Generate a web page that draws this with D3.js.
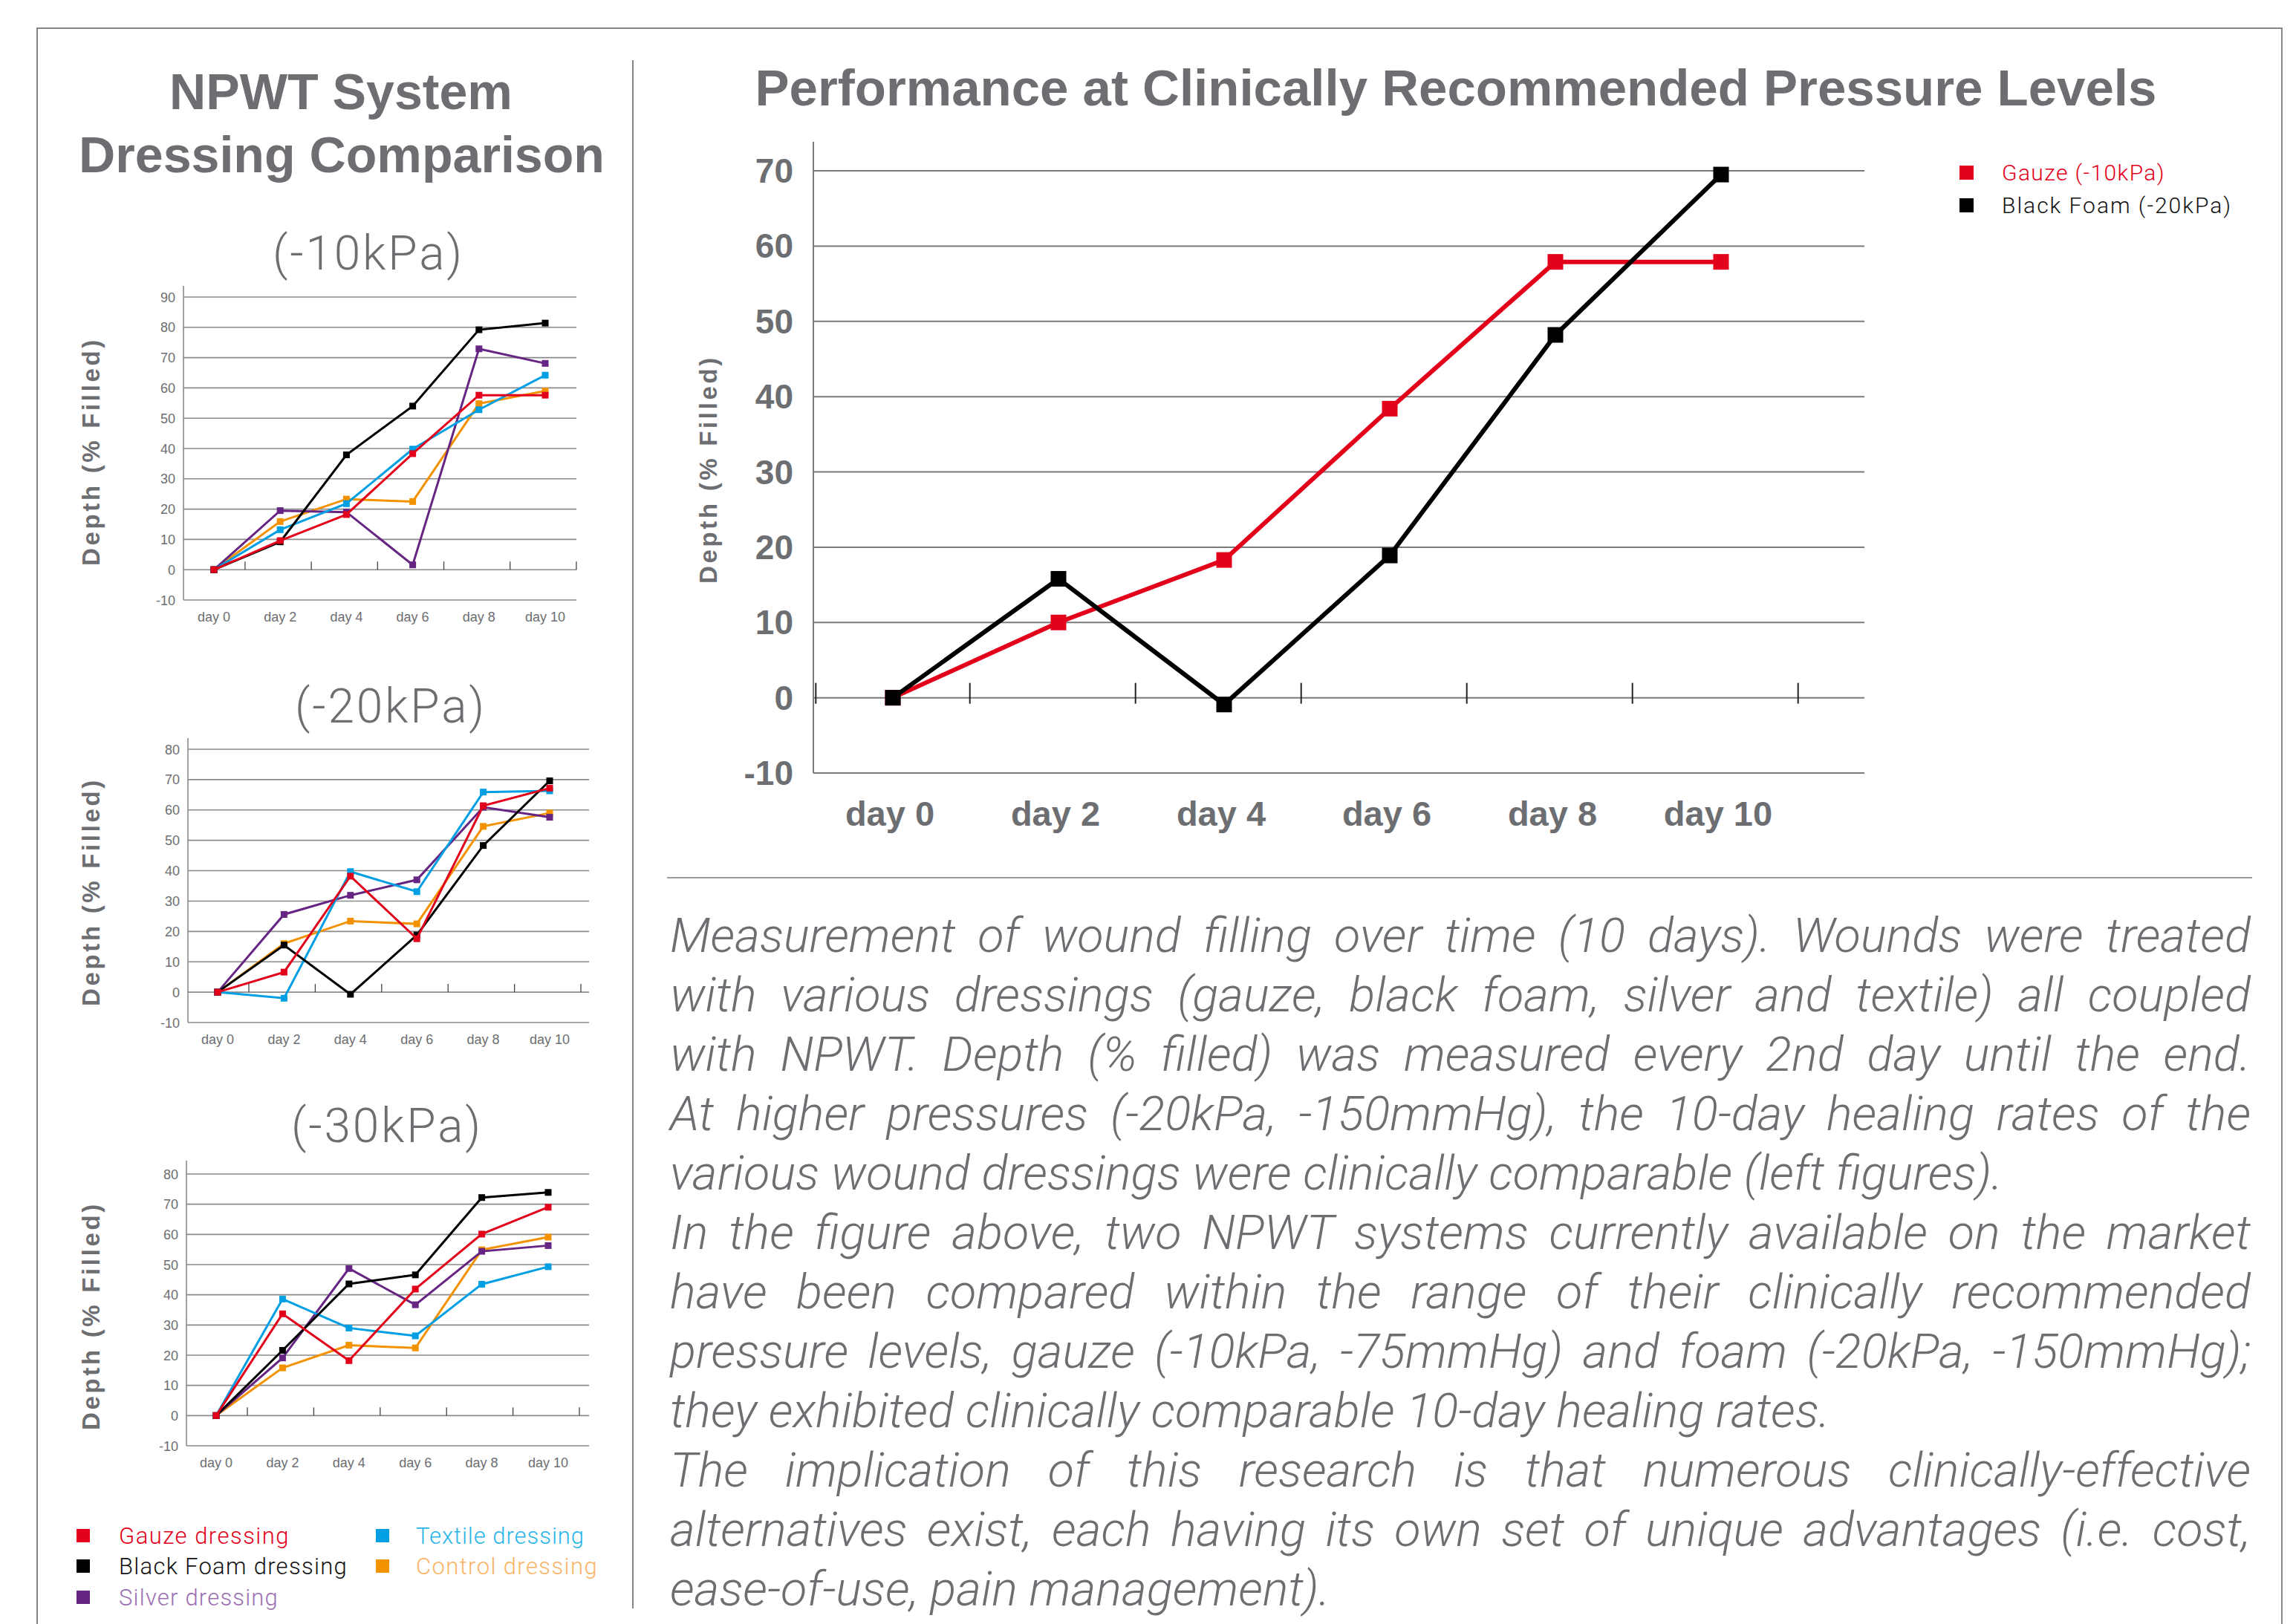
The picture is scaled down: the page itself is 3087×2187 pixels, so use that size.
<!DOCTYPE html>
<html>
<head>
<meta charset="utf-8">
<script src="https://cdn.jsdelivr.net/npm/d3@7"></script>
<style>
  body { margin:0; background:#fff; }
  svg text { font-family: "Liberation Sans", Arial, sans-serif; }
  .light { font-family: "Roboto", "Open Sans", "Liberation Sans", sans-serif !important; font-weight: 300; }
</style>
</head>
<body>
<script>
// ---- data ----
var days = ["day 0", "day 2", "day 4", "day 6", "day 8", "day 10"];
var dressings = ["Gauze dressing", "Black Foam dressing", "Silver dressing", "Textile dressing", "Control dressing"];
var pressures = ["(-10kPa)", "(-20kPa)", "(-30kPa)"];

// -10kPa
var gauze10   = [0, 9.6, 18.2, 38.3, 57.6, 57.6];
var foam10    = [0, 9.2, 37.9, 54.0, 79.2, 81.4];
var silver10  = [0, 19.5, 19.0, 1.6, 72.9, 68.1];
var textile10 = [0, 13.2, 21.8, 39.8, 52.8, 64.2];
var control10 = [0, 15.9, 23.3, 22.5, 54.8, 59.0];
// -20kPa
var gauze20   = [0, 6.6, 38.2, 17.6, 61.4, 67.2];
var foam20    = [0, 15.5, -0.7, 18.8, 48.3, 69.6];
var silver20  = [0, 25.6, 31.9, 37.0, 60.9, 57.6];
var textile20 = [0, -2.0, 39.7, 33.1, 65.9, 66.3];
var control20 = [0, 16.0, 23.4, 22.5, 54.6, 59.0];
// -30kPa
var gauze30   = [0, 33.7, 18.2, 41.9, 60.1, 69.0];
var foam30    = [0, 21.6, 43.6, 46.6, 72.2, 73.9];
var silver30  = [0, 19.1, 48.7, 36.7, 54.4, 56.3];
var textile30 = [0, 38.6, 29.0, 26.4, 43.5, 49.3];
var control30 = [0, 15.8, 23.3, 22.4, 54.9, 59.1];

// main chart
var mainNames = ["Gauze (-10kPa)", "Black Foam (-20kPa)"];
var gauzeMain = [0, 10.0, 18.3, 38.4, 57.9, 57.9];
var foamMain  = [0, 15.8, -0.9, 18.9, 48.2, 69.5];
var mainTicks = [-10, 0, 10, 20, 30, 40, 50, 60, 70];

var paragraph = [
  "Measurement of wound filling over time (10 days). Wounds were treated",
  "with various dressings (gauze, black foam, silver and textile) all coupled",
  "with NPWT. Depth (% filled) was measured every 2nd day until the end.",
  "At higher pressures (-20kPa, -150mmHg), the 10-day healing rates of the",
  "various wound dressings were clinically comparable (left figures).",
  "In the figure above, two NPWT systems currently available on the market",
  "have been compared within the range of their clinically recommended",
  "pressure levels, gauze (-10kPa, -75mmHg) and foam (-20kPa, -150mmHg);",
  "they exhibited clinically comparable 10-day healing rates.",
  "The implication of this research is that numerous clinically-effective",
  "alternatives exist, each having its own set of unique advantages (i.e. cost,",
  "ease-of-use, pain management)."
];
var lastLines = [4, 8, 11];

// ---- styles ----
var lineColors = ["#e2001a", "#000000", "#662483", "#009fe3", "#f39200"];
var legendText = ["#e2001a", "#111111", "#9b6fb1", "#29b5e8", "#f9b466"];
var gray = "#6d6e71";
var drawOrder = [4, 2, 3, 1, 0];

var width = 3087, height = 2187;
var svg = d3.select("body").append("svg")
  .attr("width", width).attr("height", height);

// frame
svg.append("path").attr("d", "M50,2200V38H3072V2200")
  .attr("fill", "none").attr("stroke", "#858585").attr("stroke-width", 2);
svg.append("line").attr("x1", 852).attr("x2", 852).attr("y1", 81).attr("y2", 2166)
  .attr("stroke", "#858585").attr("stroke-width", 2);
svg.append("line").attr("x1", 898).attr("x2", 3032).attr("y1", 1182).attr("y2", 1182)
  .attr("stroke", "#9a9a9a").attr("stroke-width", 2);

function fitWidth(t, w) {
  var cur = t.node().getComputedTextLength();
  var fs = parseFloat(t.attr("font-size"));
  t.attr("font-size", fs * w / cur);
  return fs * w / cur;
}
// widen/narrow a label by letter spacing so it spans w pixels
function fitSpacing(t, w) {
  var cur = t.node().getComputedTextLength();
  var n = t.text().length;
  t.attr("letter-spacing", (w - cur) / n);
}

// titles
var t1 = svg.append("text").attr("x", 460).attr("y", 232).attr("text-anchor", "middle")
  .attr("font-size", 65).attr("font-weight", "bold").attr("fill", gray).text("Dressing Comparison");
var fsLeft = fitWidth(t1, 708);
svg.append("text").attr("x", 459).attr("y", 147).attr("text-anchor", "middle")
  .attr("font-size", fsLeft).attr("font-weight", "bold").attr("fill", gray).text("NPWT System");
var t3 = svg.append("text").attr("x", 1960).attr("y", 142).attr("text-anchor", "middle")
  .attr("font-size", 65).attr("font-weight", "bold").attr("fill", gray)
  .text("Performance at Clinically Recommended Pressure Levels");
fitWidth(t3, 1887);

// ---- small charts ----
var panels = [
  { series: [gauze10, foam10, silver10, textile10, control10], yMax: 90,
    left: 247, right: 776, top: 385, yTop: 400, yBot: 808, x0: 288, x1: 734,
    titleX: 496, titleY: 363, labelY: 608 },
  { series: [gauze20, foam20, silver20, textile20, control20], yMax: 80,
    left: 253, right: 793, top: 994, yTop: 1009, yBot: 1377, x0: 293, x1: 740,
    titleX: 526, titleY: 973, labelY: 1201 },
  { series: [gauze30, foam30, silver30, textile30, control30], yMax: 80,
    left: 251, right: 793, top: 1563, yTop: 1581, yBot: 1947, x0: 291, x1: 738,
    titleX: 521, titleY: 1538, labelY: 1772 }
];

panels.forEach(function(p, pi) {
  var g = svg.append("g");
  var y = d3.scaleLinear().domain([-10, p.yMax]).range([p.yBot, p.yTop]);
  var x = d3.scalePoint().domain(days).range([p.x0, p.x1]);
  var step = x.step();
  var ticks = d3.range(-10, p.yMax + 1, 10);

  var st = g.append("text").attr("class", "light").attr("x", p.titleX).attr("y", p.titleY)
    .attr("text-anchor", "middle").attr("font-size", 64).attr("fill", gray).text(pressures[pi]);
  fitSpacing(st, 258);

  g.selectAll(".grid").data(ticks).enter().append("line")
    .attr("x1", p.left).attr("x2", p.right)
    .attr("y1", function(d) { return y(d); }).attr("y2", function(d) { return y(d); })
    .attr("stroke", "#8a8a8a").attr("stroke-width", 1.6);
  g.append("line").attr("x1", p.left).attr("x2", p.left).attr("y1", p.top).attr("y2", p.yBot)
    .attr("stroke", "#8a8a8a").attr("stroke-width", 1.6);
  g.selectAll(".tk").data(days).enter().append("line")
    .attr("x1", function(d) { return x(d) + step * 0.47; })
    .attr("x2", function(d) { return x(d) + step * 0.47; })
    .attr("y1", y(0) - 11).attr("y2", y(0))
    .attr("stroke", "#444").attr("stroke-width", 1.3);

  g.selectAll(".yl").data(ticks).enter().append("text")
    .attr("x", p.left - 11).attr("y", function(d) { return y(d) + 6.5; })
    .attr("text-anchor", "end").attr("font-size", 18).attr("fill", gray)
    .text(function(d) { return d; });
  g.selectAll(".xl").data(days).enter().append("text")
    .attr("x", function(d) { return x(d); }).attr("y", p.yBot + 29)
    .attr("text-anchor", "middle").attr("font-size", 18).attr("fill", gray)
    .text(function(d) { return d; });

  var yl = g.append("text")
    .attr("transform", "translate(122," + p.labelY + ") rotate(-90)")
    .attr("text-anchor", "middle").attr("dominant-baseline", "central")
    .attr("font-size", 33).attr("font-weight", "bold")
    .attr("fill", gray).text("Depth (% Filled)");
  fitSpacing(yl, 308);

  var line = d3.line().x(function(d, i) { return x(days[i]); }).y(function(d) { return y(d); });
  drawOrder.forEach(function(si) {
    g.append("path").attr("d", line(p.series[si])).attr("fill", "none")
      .attr("stroke", lineColors[si]).attr("stroke-width", 3);
    g.selectAll(".m" + si).data(p.series[si]).enter().append("rect")
      .attr("x", function(d, i) { return x(days[i]) - 4.5; })
      .attr("y", function(d) { return y(d) - 4.5; })
      .attr("width", 9).attr("height", 9).attr("fill", lineColors[si]);
  });
});

// left legend
var legPos = [[103, 160, 2079], [103, 160, 2120], [103, 160, 2162], [506, 560, 2079], [506, 560, 2120]];
var legW = [230, 308, 215, 227, 245];
dressings.forEach(function(name, i) {
  var lp = legPos[i];
  svg.append("rect").attr("x", lp[0]).attr("y", lp[2] - 20).attr("width", 18).attr("height", 18)
    .attr("fill", lineColors[i]);
  var t = svg.append("text").attr("class", "light").attr("x", lp[1]).attr("y", lp[2])
    .attr("font-size", 31).attr("fill", legendText[i]).text(name);
  fitSpacing(t, legW[i]);
});

// ---- main chart ----
var my = d3.scaleLinear().domain([-10, 70]).range([1041, 230]);
var mx = d3.scalePoint().domain(days).range([1202, 2317]);
var mstep = mx.step();
var mg = svg.append("g");
var mLeft = 1095, mRight = 2510, mTop = 191;

mg.selectAll(".grid").data(mainTicks).enter().append("line")
  .attr("x1", mLeft).attr("x2", mRight)
  .attr("y1", function(d) { return my(d); }).attr("y2", function(d) { return my(d); })
  .attr("stroke", "#7a7a7a").attr("stroke-width", 2);
mg.append("line").attr("x1", mLeft).attr("x2", mLeft).attr("y1", mTop).attr("y2", my(-10))
  .attr("stroke", "#7a7a7a").attr("stroke-width", 2);
var tickXs = [mx(days[0]) - mstep * 0.465].concat(days.map(function(d) { return mx(d) + mstep * 0.465; }));
mg.selectAll(".tk").data(tickXs).enter().append("line")
  .attr("x1", function(d) { return d; }).attr("x2", function(d) { return d; })
  .attr("y1", my(0) - 20).attr("y2", my(0) + 8)
  .attr("stroke", "#222").attr("stroke-width", 2);

mg.selectAll(".yl").data(mainTicks).enter().append("text")
  .attr("x", 1068).attr("y", function(d) { return my(d) + 16; })
  .attr("text-anchor", "end").attr("font-size", 46).attr("font-weight", "bold").attr("fill", gray)
  .text(function(d) { return d; });
mg.selectAll(".xl").data(days).enter().append("text")
  .attr("x", function(d) { return mx(d) - 4; }).attr("y", 1112)
  .attr("text-anchor", "middle").attr("font-size", 47).attr("font-weight", "bold").attr("fill", gray)
  .text(function(d) { return d; });
var myl = mg.append("text")
  .attr("transform", "translate(953,632) rotate(-90)")
  .attr("text-anchor", "middle").attr("dominant-baseline", "central")
  .attr("font-size", 33).attr("font-weight", "bold")
  .attr("fill", gray).text("Depth (% Filled)");
fitSpacing(myl, 308);

var mline = d3.line().x(function(d, i) { return mx(days[i]); }).y(function(d) { return my(d); });
[[gauzeMain, lineColors[0]], [foamMain, lineColors[1]]].forEach(function(s) {
  mg.append("path").attr("d", mline(s[0])).attr("fill", "none")
    .attr("stroke", s[1]).attr("stroke-width", 6);
  mg.selectAll(null).data(s[0]).enter().append("rect")
    .attr("x", function(d, i) { return mx(days[i]) - 10.5; })
    .attr("y", function(d) { return my(d) - 10.5; })
    .attr("width", 21).attr("height", 21).attr("fill", s[1]);
});

// main legend
var mainLegW = [220, 310];
mainNames.forEach(function(name, i) {
  svg.append("rect").attr("x", 2638).attr("y", 223 + i * 44).attr("width", 19).attr("height", 19)
    .attr("fill", lineColors[i]);
  var t = svg.append("text").attr("class", "light").attr("x", 2695).attr("y", 243 + i * 44)
    .attr("font-size", 30).attr("fill", legendText[i]).text(name);
  fitSpacing(t, mainLegW[i]);
});

// ---- paragraph (justified by word spacing) ----
var pg = svg.append("g");
var lines = pg.selectAll("text").data(paragraph).enter().append("text")
  .attr("class", "light").attr("font-style", "italic")
  .attr("x", 902).attr("y", function(d, i) { return 1282 + i * 80; })
  .attr("font-size", 65).attr("fill", gray)
  .text(function(d) { return d; });
// letter spacing so a free line matches the reference length
var free = lines.filter(function(d, i) { return i === 4; });
var ls = Math.max(0, (1746 - free.node().getComputedTextLength()) / paragraph[4].length);
lines.attr("letter-spacing", ls);
lines.each(function(d, i) {
  if (lastLines.indexOf(i) >= 0) return;
  var w = this.getComputedTextLength();
  var spaces = d.split(" ").length - 1;
  d3.select(this).attr("word-spacing", (2128 - w) / spaces);
});
</script>
</body>
</html>
